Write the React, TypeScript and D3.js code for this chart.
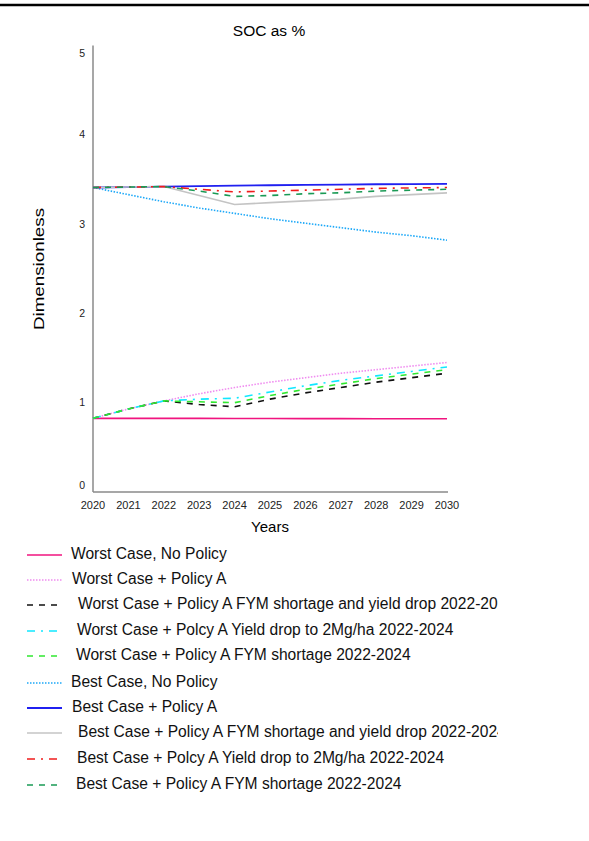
import { useEffect, useRef } from "react";
import * as d3 from "d3";

const years = [2020, 2021, 2022, 2023, 2024, 2025, 2026, 2027, 2028, 2029, 2030];
const yTicks = [0, 1, 2, 3, 4, 5];

const worstNoPolicy = [0.825, 0.825, 0.824, 0.824, 0.823, 0.823, 0.822, 0.822, 0.821, 0.821, 0.82];
const worstPolicyA = [0.825, 0.93, 1.02, 1.1, 1.17, 1.23, 1.28, 1.33, 1.37, 1.41, 1.45];
const worstFymYield = [0.825, 0.93, 1.02, 0.98, 0.955, 1.04, 1.11, 1.17, 1.23, 1.28, 1.33];
const worstYieldDrop = [0.825, 0.93, 1.02, 1.04, 1.05, 1.12, 1.19, 1.25, 1.3, 1.35, 1.4];
const worstFym = [0.825, 0.93, 1.02, 1.01, 1.0, 1.08, 1.15, 1.21, 1.27, 1.32, 1.37];
const bestNoPolicy = [3.41, 3.33, 3.25, 3.18, 3.12, 3.06, 3.01, 2.96, 2.91, 2.87, 2.82];
const bestPolicyA = [3.41, 3.415, 3.42, 3.425, 3.43, 3.435, 3.44, 3.443, 3.446, 3.448, 3.45];
const bestFymYield = [3.41, 3.415, 3.42, 3.32, 3.22, 3.24, 3.26, 3.28, 3.31, 3.33, 3.35];
const bestYieldDrop = [3.41, 3.415, 3.42, 3.39, 3.36, 3.37, 3.38, 3.39, 3.4, 3.405, 3.41];
const bestFym = [3.41, 3.415, 3.42, 3.37, 3.31, 3.32, 3.34, 3.35, 3.37, 3.38, 3.39];

const seriesNames = [
  "Worst Case, No Policy",
  "Worst Case + Policy A",
  "Worst Case + Policy A FYM shortage and yield drop 2022-2024",
  "Worst Case + Polcy A Yield drop to 2Mg/ha 2022-2024",
  "Worst Case + Policy A FYM shortage 2022-2024",
  "Best Case, No Policy",
  "Best Case + Policy A",
  "Best Case + Policy A FYM shortage and yield drop 2022-2024",
  "Best Case + Polcy A Yield drop to 2Mg/ha 2022-2024",
  "Best Case + Policy A FYM shortage 2022-2024",
];
const seriesValues = [
  worstNoPolicy, worstPolicyA, worstFymYield, worstYieldDrop, worstFym,
  bestNoPolicy, bestPolicyA, bestFymYield, bestYieldDrop, bestFym,
];

// style per series: color, dash, width, legend text offset
const styles = [
  { color: "#f0147f", dash: "", w: 1.6, tx: 71 },
  { color: "#f08cf0", dash: "1.5,1.5", w: 1.6, tx: 72 },
  { color: "#111111", dash: "6,6", w: 1.6, tx: 78 },
  { color: "#10e8ff", dash: "8,6,2,6", w: 1.6, tx: 77 },
  { color: "#30e830", dash: "6,6", w: 1.6, tx: 76 },
  { color: "#1ca8f8", dash: "1.5,1.5", w: 1.6, tx: 71 },
  { color: "#2020f0", dash: "", w: 1.8, tx: 72 },
  { color: "#c4c4c4", dash: "", w: 1.6, tx: 78 },
  { color: "#f01c1c", dash: "8,6,2,6", w: 1.6, tx: 77 },
  { color: "#1a9a55", dash: "6,6", w: 1.6, tx: 76 },
];

const W = 589;
const H = 841;

export default function App() {
  const svgRef = useRef<SVGSVGElement>(null);

  useEffect(() => {
    if (!svgRef.current) return;
    const svg = d3.select(svgRef.current);
    svg.selectAll("*").remove();

    const font = "Liberation Sans, Arial, sans-serif";
    const x = d3.scaleLinear().domain([2020, 2030]).range([93, 447]);
    const y = d3.scaleLinear().domain([0, 5]).range([492, 45.5]);

    // top rule
    svg.append("line")
      .attr("x1", 0).attr("x2", W).attr("y1", 5).attr("y2", 5)
      .attr("stroke", "#000").attr("stroke-width", 2.5);

    // title
    svg.append("text")
      .attr("x", 269).attr("y", 36)
      .attr("text-anchor", "middle")
      .attr("font-family", font).attr("font-size", 15.5)
      .text("SOC as %");

    // axes
    svg.append("line")
      .attr("x1", x(2020)).attr("x2", x(2020))
      .attr("y1", y(5)).attr("y2", y(0))
      .attr("stroke", "#8a8a8a").attr("stroke-width", 1.5);
    svg.append("line")
      .attr("x1", x(2020)).attr("x2", x(2030) + 1)
      .attr("y1", y(0)).attr("y2", y(0))
      .attr("stroke", "#8a8a8a").attr("stroke-width", 1.5);

    // y tick labels (end labels nudged inward)
    svg.selectAll(".ytick")
      .data(yTicks)
      .join("text")
      .attr("x", 85)
      .attr("y", (d) => y(d) + (d === 0 ? -7 : d === 5 ? 8 : 0))
      .attr("dy", "0.35em")
      .attr("text-anchor", "end")
      .attr("font-family", font).attr("font-size", 10.5)
      .attr("fill", "#222")
      .text((d) => d);

    // x tick labels
    svg.selectAll(".xtick")
      .data(years)
      .join("text")
      .attr("x", (d) => x(d))
      .attr("y", 509)
      .attr("text-anchor", "middle")
      .attr("font-family", font).attr("font-size", 11)
      .attr("fill", "#222")
      .text((d) => d);

    // axis titles
    svg.append("text")
      .attr("x", 270).attr("y", 532)
      .attr("text-anchor", "middle")
      .attr("font-family", font).attr("font-size", 15)
      .text("Years");
    svg.append("text")
      .attr("transform", "translate(44,269) rotate(-90)")
      .attr("text-anchor", "middle")
      .attr("font-family", font).attr("font-size", 15.5)
      .attr("textLength", 122)
      .attr("lengthAdjust", "spacingAndGlyphs")
      .text("Dimensionless");

    // series lines
    const line = d3.line<number>()
      .x((_, i) => x(years[i]))
      .y((d) => y(d));

    seriesValues.forEach((vals, i) => {
      const s = styles[i];
      svg.append("path")
        .datum(vals)
        .attr("d", line)
        .attr("fill", "none")
        .attr("stroke", s.color)
        .attr("stroke-width", s.w)
        .attr("stroke-dasharray", s.dash || null);
    });

    // legend (long entries are clipped on the right, as in the source)
    svg.append("clipPath").attr("id", "legclip")
      .append("rect").attr("x", 0).attr("y", 540).attr("width", 498).attr("height", 260);
    const legRows = [554, 579, 604, 630, 655, 682, 707, 732, 758, 784];
    const leg = svg.append("g").attr("clip-path", "url(#legclip)");
    seriesNames.forEach((name, i) => {
      const s = styles[i];
      const ly = legRows[i];
      leg.append("line")
        .attr("x1", 27).attr("x2", 62)
        .attr("y1", ly + 1).attr("y2", ly + 1)
        .attr("stroke", s.color)
        .attr("stroke-width", s.w)
        .attr("stroke-dasharray", s.dash || null);
      leg.append("text")
        .attr("x", s.tx).attr("y", ly)
        .attr("dy", "0.35em")
        .attr("font-family", font).attr("font-size", 15.6)
        .attr("fill", "#111")
        .text(name);
    });
  }, []);

  return (
    <div style={{ position: "absolute", left: 0, top: 0, width: W, height: H, background: "#fff" }}>
      <svg ref={svgRef} width={W} height={H} viewBox={`0 0 ${W} ${H}`} />
    </div>
  );
}
